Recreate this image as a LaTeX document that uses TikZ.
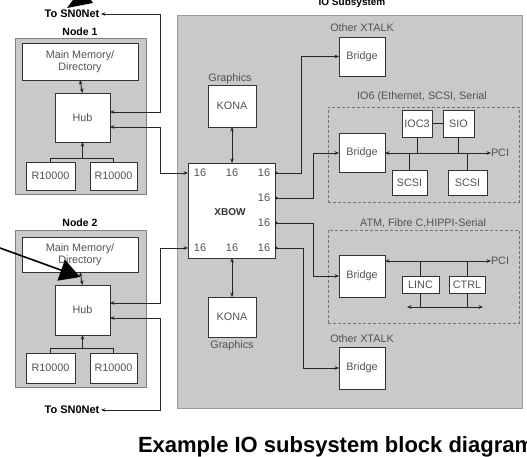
\documentclass[tikz,border=0pt]{standalone}
\usepackage{fontspec}
\setmainfont{Liberation Sans}
\usetikzlibrary{arrows.meta}
\definecolor{graybg}{RGB}{201,201,201}
\begin{document}
\begin{tikzpicture}[x=1pt,y=-1pt,
  every node/.style={inner sep=0pt, outer sep=0pt},
  lbl/.style={font=\fontsize{10.8}{12.2}\selectfont, text=black!68},
  blbl/.style={font=\fontsize{10.5}{12}\selectfont\bfseries},
  wbox/.style={draw=black!80, line width=0.7pt, fill=white, lbl, align=center},
  gbox/.style={draw=black!50, line width=0.8pt, fill=graybg},
  dbox/.style={draw=black!55, dash pattern=on 3pt off 2pt, line width=0.6pt},
  conn/.style={line width=0.9pt, draw=black!85},
  arr/.style={conn, -{Stealth[length=4.5pt,width=3.6pt]}},
  darr/.style={conn, {Stealth[length=4.5pt,width=3.6pt]}-{Stealth[length=4.5pt,width=3.6pt]}},
  carr/.style={conn, {Circle[length=2.6pt]}-{Stealth[length=4.5pt,width=3.6pt]}},
]
\useasboundingbox (0,0) rectangle (527,457);
\fill[white] (0,0) rectangle (527,457);

% ---------- IO subsystem background ----------
\node[gbox, draw=black!40, minimum width=345pt, minimum height=393pt] (io) at (349.5,211.5) {};
\node[blbl, font=\fontsize{10}{12}\selectfont\bfseries] (iotitle) at (352,3) {IO Subsystem};

% ---------- Node 1 ----------
\node[blbl] (n1lbl) at (80,32) {Node 1};
\node[gbox, minimum width=131pt, minimum height=156pt] (n1) at (80.5,116) {};
\node[wbox, minimum width=116pt, minimum height=37pt] (mm1) at (80,61.5) {Main Memory/\\Directory};
\node[wbox, minimum width=55pt, minimum height=49pt] (hub1) at (82.5,117.5) {Hub};
\node[wbox, minimum width=49pt, minimum height=28pt] (r1a) at (50.5,176) {R10000};
\node[wbox, minimum width=47pt, minimum height=28pt] (r1b) at (113.5,176) {R10000};
\node[blbl, font=\fontsize{11}{12}\selectfont\bfseries, outer sep=1.5pt] (sn1) at (72,14) {To SN0Net};

% ---------- Node 2 ----------
\node[blbl] (n2lbl) at (80,223) {Node 2};
\node[gbox, minimum width=131pt, minimum height=157pt] (n2) at (80.5,308.5) {};
\node[wbox, minimum width=116pt, minimum height=35pt] (mm2) at (80,254.5) {Main Memory/\\Directory};
\node[wbox, minimum width=55pt, minimum height=50pt] (hub2) at (82.5,310) {Hub};
\node[wbox, minimum width=49pt, minimum height=30pt] (r2a) at (50.5,368) {R10000};
\node[wbox, minimum width=47pt, minimum height=30pt] (r2b) at (113.5,368) {R10000};
\node[blbl, font=\fontsize{11}{12}\selectfont\bfseries, outer sep=1.5pt] (sn2) at (72,410) {To SN0Net};

% ---------- XBOW and KONA ----------
\node[wbox, minimum width=87pt, minimum height=95pt] (xbow) at (231.5,210.5) {};
\node[font=\fontsize{10}{11}\selectfont\bfseries, text=black!80] (xbowlbl) at (230,212) {XBOW};
\foreach \n/\x/\y in {p1/200/173, p2/232/173, p3/264/173, p4/264/198, p5/264/223, p6/200/248, p7/232/248, p8/264/248}
  \node[lbl, font=\fontsize{11}{12}\selectfont] (\n) at (\x,\y) {16};

\node[lbl] (g1) at (230,79) {Graphics};
\node[wbox, minimum width=48pt, minimum height=42pt] (kona1) at (232,106) {KONA};
\node[wbox, minimum width=48pt, minimum height=40pt] (kona2) at (232,317) {KONA};
\node[lbl] (g2) at (232,346) {Graphics};

% ---------- Bridges ----------
\node[lbl] (oxa) at (362,28) {Other XTALK};
\node[wbox, minimum width=46pt, minimum height=39pt] (brA) at (362,56.5) {Bridge};

\node[dbox, minimum width=191pt, minimum height=95pt] (io6) at (423.5,154.5) {};
\node[lbl] (io6lbl) at (422,97) {IO6 (Ethernet, SCSI, Serial};
\node[wbox, minimum width=46pt, minimum height=39pt] (brB) at (362,153) {Bridge};
\node[wbox, minimum width=30pt, minimum height=27pt] (ioc3) at (417,123.5) {IOC3};
\node[wbox, minimum width=31pt, minimum height=27pt] (sio) at (458.5,123.5) {SIO};
\node[wbox, minimum width=35pt, minimum height=25pt] (scsi1) at (409.5,182.5) {SCSI};
\node[wbox, minimum width=39pt, minimum height=25pt] (scsi2) at (467.5,182.5) {SCSI};
\node[lbl, anchor=west] (pci1) at (491,153) {PCI};

\node[dbox, minimum width=191pt, minimum height=93pt] (atm) at (423.5,276.5) {};
\node[lbl] (atmlbl) at (423,223) {ATM, Fibre C,HIPPI-Serial};
\node[wbox, minimum width=46pt, minimum height=42pt] (brC) at (362,276) {Bridge};
\node[wbox, minimum width=37pt, minimum height=17pt] (linc) at (420.5,284.5) {LINC};
\node[wbox, minimum width=36pt, minimum height=17pt] (ctrl) at (467,284.5) {CTRL};
\node[lbl, anchor=west] (pci2) at (491,261) {PCI};

\node[lbl] (oxd) at (362,339) {Other XTALK};
\node[wbox, minimum width=46pt, minimum height=42pt] (brD) at (362,368) {Bridge};

% ---------- coordinates ----------
\coordinate (busx) at (160,0);
\coordinate (xl1) at ([yshift=37.5pt]xbow.west);
\coordinate (xl4) at ([yshift=-37.5pt]xbow.west);
\coordinate (xr1) at ([yshift=37.5pt]xbow.east);
\coordinate (xr2) at ([yshift=12.5pt]xbow.east);
\coordinate (xr3) at ([yshift=-12.5pt]xbow.east);
\coordinate (xr4) at ([yshift=-37.5pt]xbow.east);
\coordinate (atmbus) at ([yshift=15pt]brC.east);
\coordinate (lb1) at (407,307);
\coordinate (lb2) at (483,307);

% ---------- connectors: nodes ----------
\draw[darr] (mm1.south) -- (hub1.north);
\draw[arr] (r1a.north) |- ([yshift=-16pt]hub1.south) -- (hub1.south);
\draw[conn] (r1b.north) |- ([yshift=-16pt]hub1.south);
\draw[darr] ([yshift=5.5pt]hub1.east) -| (busx |- sn1.east) -- (sn1.east);
\draw[darr] ([yshift=-9.5pt]hub1.east) -| (busx |- xl1) -- (xl1);

\draw[darr] (mm2.south) -- (hub2.north);
\draw[arr] (r2a.north) |- ([yshift=-13pt]hub2.south) -- (hub2.south);
\draw[conn] (r2b.north) |- ([yshift=-13pt]hub2.south);
\draw[darr] ([yshift=7pt]hub2.east) -| (busx |- xl4) -- (xl4);
\draw[darr] ([yshift=-8pt]hub2.east) -| (busx |- sn2.east) -- (sn2.east);

% ---------- connectors: XBOW ----------
\draw[darr] (kona1.south) -- (kona1.south |- xbow.north);
\draw[darr] (kona2.north) -- (kona2.north |- xbow.south);
\draw[carr] (xr1) -| ([xshift=-38pt]brA.west) -- (brA.west);
\draw[carr] (xr2) -| ([xshift=-26pt]brB.west) -- (brB.west);
\draw[carr] (xr3) -| ([xshift=-26pt]brC.west) -- (brC.west);
\draw[carr] (xr4) -| ([xshift=-36pt]brD.west) -- (brD.west);

% ---------- IO6 internals ----------
\draw[darr] (brB.east) -- (pci1.west);
\draw[conn] (ioc3.east) -- (sio.west);
\draw[conn] (ioc3.south) -- (ioc3.south |- brB.east);
\draw[conn] (sio.south) -- (sio.south |- brB.east);
\draw[conn] (scsi1.north) -- (scsi1.north |- brB.east);
\draw[conn] (scsi2.north) -- (scsi2.north |- brB.east);

% ---------- ATM internals ----------
\draw[darr] (atmbus) -- (pci2.west);
\draw[conn] (linc.north) -- (linc.north |- atmbus);
\draw[conn] (ctrl.north) -- (ctrl.north |- atmbus);
\draw[conn] (linc.south) -- (linc.south |- lb1);
\draw[conn] (ctrl.south) -- (ctrl.south |- lb1);
\draw[darr] (lb1) -- (lb2);

% ---------- annotation arrows ----------
\fill[black] (67,8) -- (93,3) -- (91,0) -- (73,0) -- cycle;
\draw[line width=1.6pt, -{Triangle[length=20pt,width=22pt]}] (0,248) -- (80,277);

% ---------- caption ----------
\node[anchor=base west, font=\fontsize{22}{26}\selectfont\bfseries] (cap) at (138,452) {Example IO subsystem block diagram};
\end{tikzpicture}
\end{document}
